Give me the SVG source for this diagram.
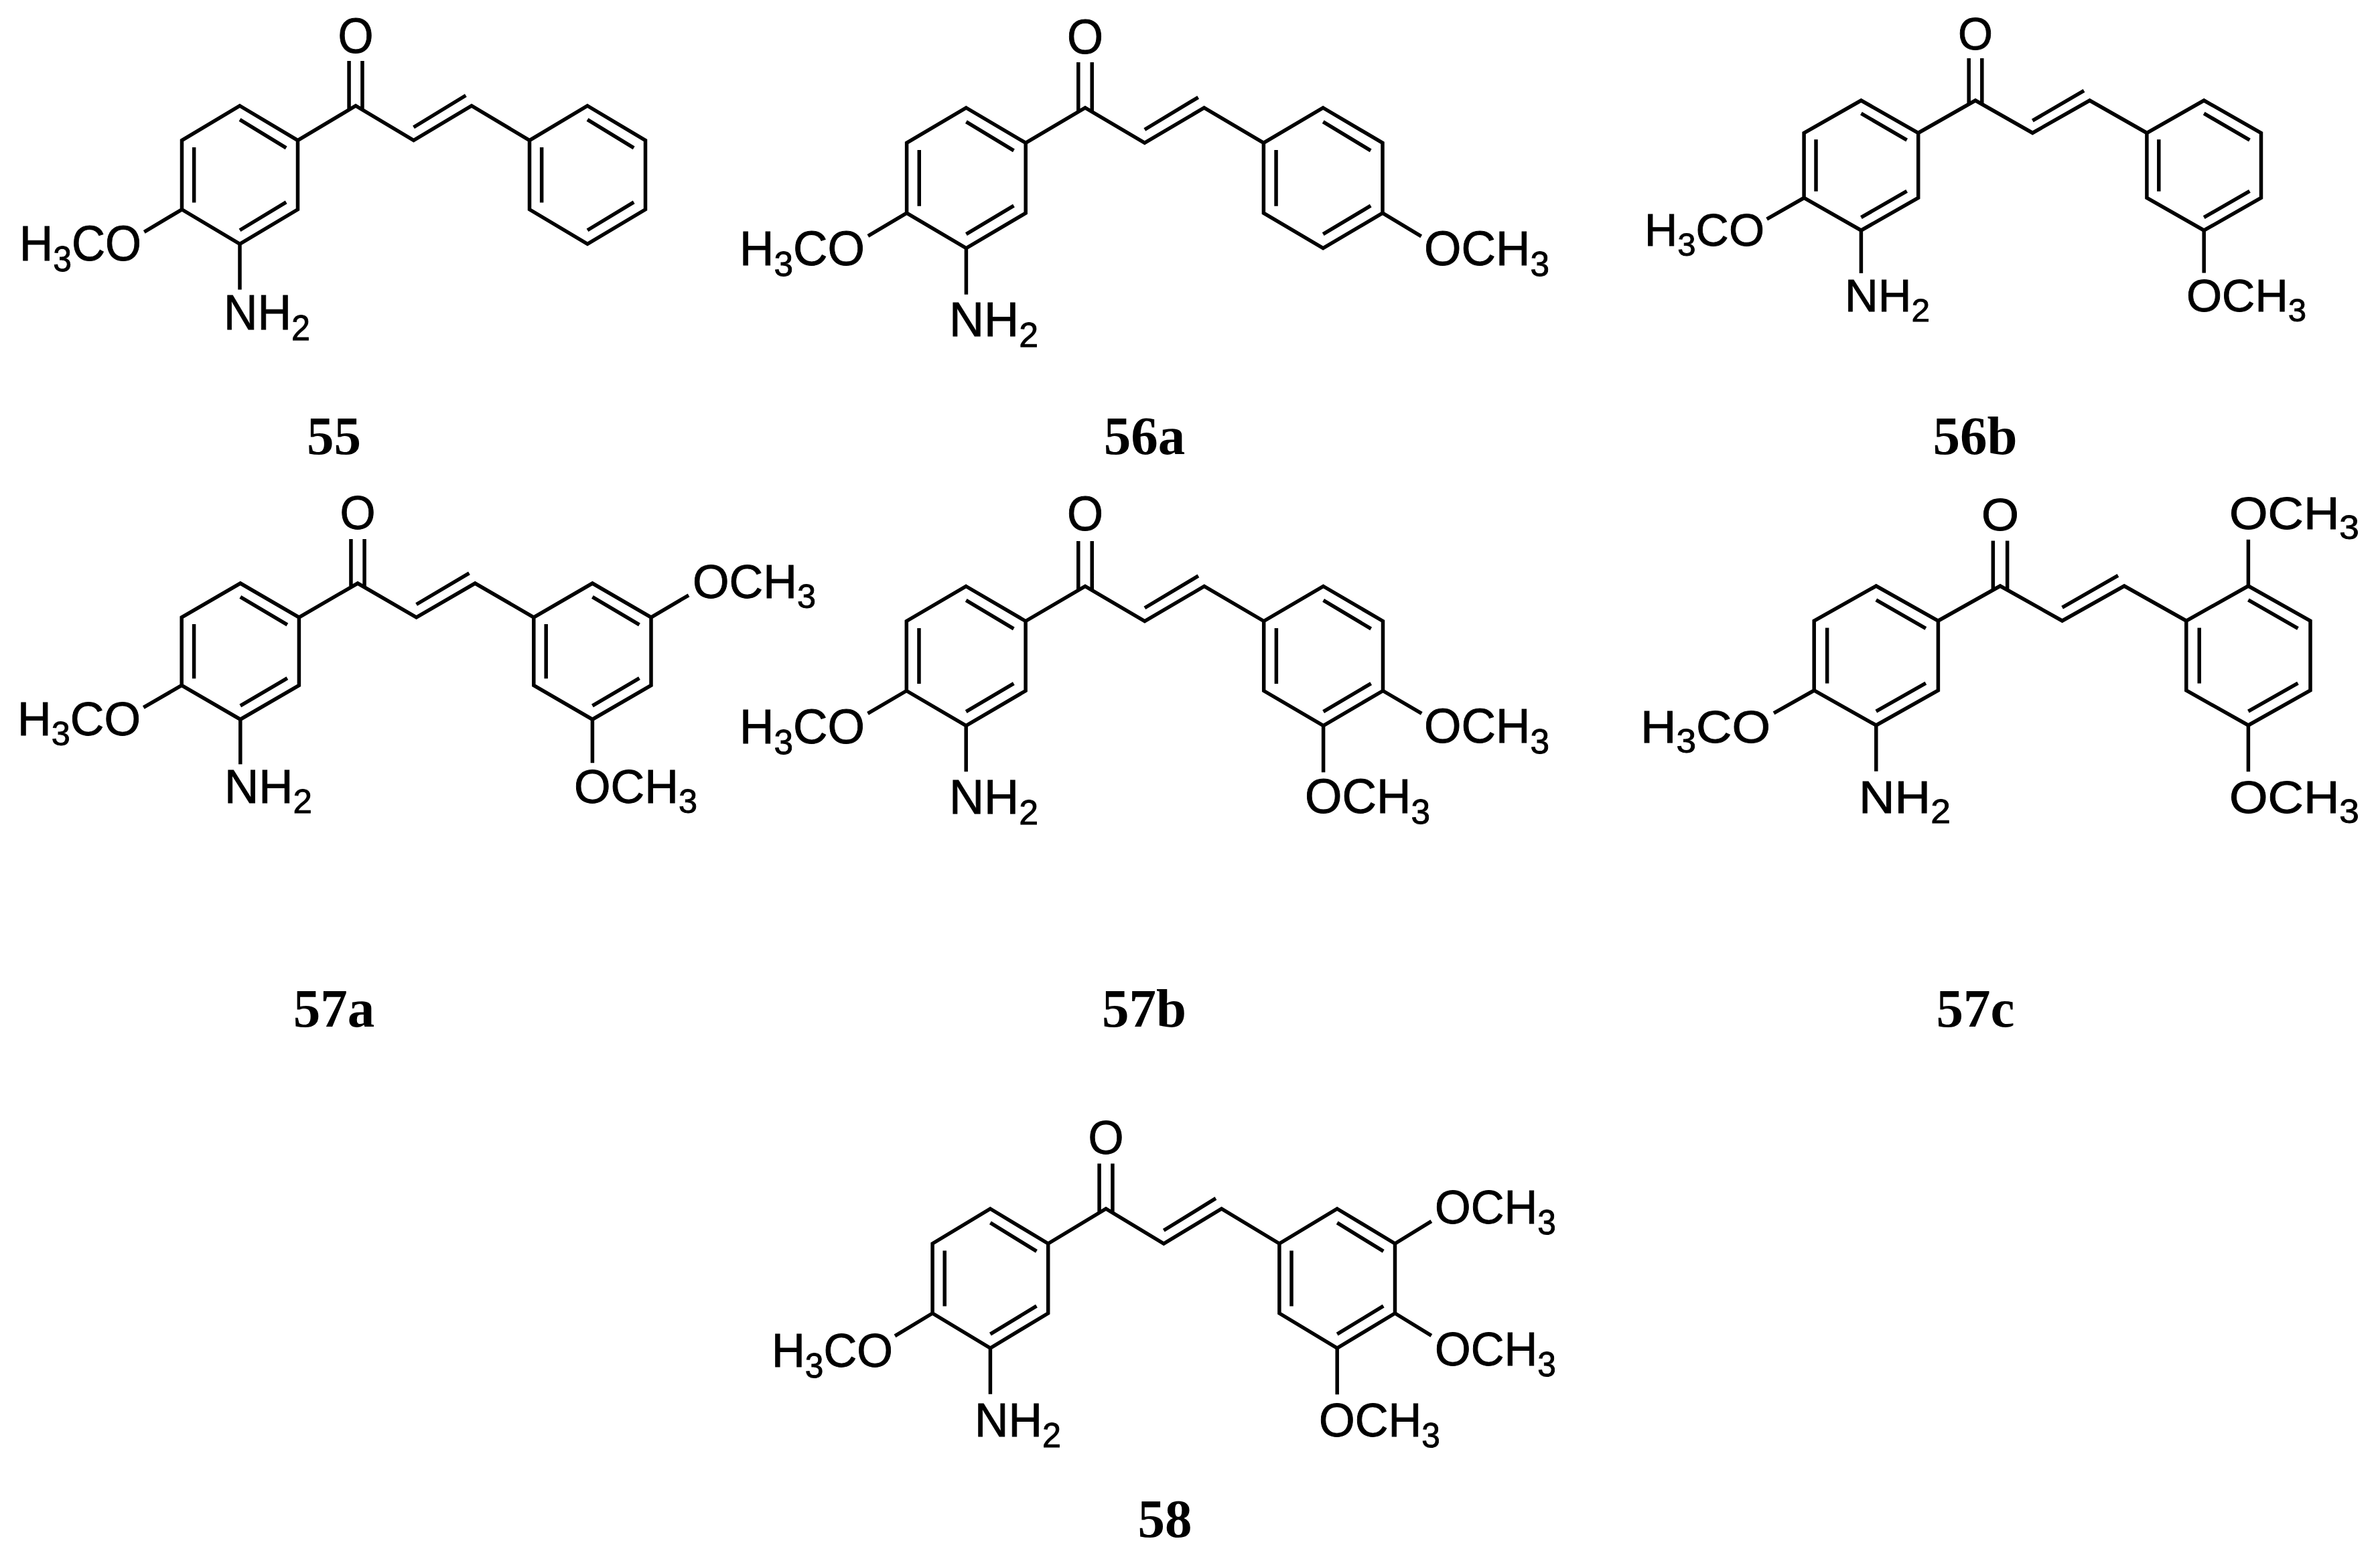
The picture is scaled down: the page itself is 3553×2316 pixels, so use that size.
<svg xmlns="http://www.w3.org/2000/svg" width="3553" height="2316" viewBox="0 0 3553 2316">
<style>
.b{fill:none;stroke:#000;stroke-width:5.5;stroke-linejoin:miter;stroke-miterlimit:10;vector-effect:non-scaling-stroke}
.t{font-family:"Liberation Sans",Arial,sans-serif;fill:#000;stroke:#000;stroke-width:.9}
.s{font-size:72%}
.m{text-anchor:middle}
.l{font-family:"Liberation Serif","Times New Roman",serif;font-weight:bold;font-size:81px;text-anchor:middle;fill:#000}
</style>
<defs>
<path id="core" class="b" d="M-2 0L-1 1L-1 3L-2 4L-3 3L-3 1ZM-1 1L0 0L1 1L2 0L3 1M-.115 .08V-1.3M.115 .1V-1.3M4 0L5 1L5 3L4 4L3 3L3 1ZM-2 .4L-1.2 1.22M-2.79 1.2V2.8M-1.2 2.79L-2 3.6M4 .4L4.8 1.22M3.21 1.2V2.8M4.8 2.79L4 3.6M1 .62L1.9 -.3M-3 3L-3.65 3.65M-2 4V5.32"/>
</defs>
<rect width="3553" height="2316" fill="#fff"/>

<g id="m55">
<use href="#core" transform="matrix(86.5 0 0 51.6 531 158)"/>
<g class="t" font-size="74">
<text class="m" x="531" y="79" textLength="53" lengthAdjust="spacingAndGlyphs">O</text>
<text x="29" y="389" textLength="182" lengthAdjust="spacingAndGlyphs">H<tspan class="s" dy="16">3</tspan><tspan dy="-16">CO</tspan></text>
<text x="334" y="492" textLength="129" lengthAdjust="spacingAndGlyphs">NH<tspan class="s" dy="16">2</tspan></text>
</g>
<text class="l" x="498.5" y="678">55</text>
</g>

<g id="m56a">
<g transform="matrix(88.8 0 0 52.4 1620 161)"><use href="#core"/><path class="b" d="M5 3L5.65 3.66"/></g>
<g class="t" font-size="73">
<text class="m" x="1620" y="80" textLength="54" lengthAdjust="spacingAndGlyphs">O</text>
<text x="1104" y="396" textLength="187" lengthAdjust="spacingAndGlyphs">H<tspan class="s" dy="16">3</tspan><tspan dy="-16">CO</tspan></text>
<text x="1417" y="502" textLength="133" lengthAdjust="spacingAndGlyphs">NH<tspan class="s" dy="16">2</tspan></text>
<text x="2126" y="396" textLength="187" lengthAdjust="spacingAndGlyphs">OCH<tspan class="s" dy="16">3</tspan></text>
</g>
<text class="l" x="1708.5" y="678">56a</text>
</g>

<g id="m56b">
<g transform="matrix(85.3 0 0 48.5 2949 150)"><use href="#core"/><path class="b" d="M4 4V5.31"/></g>
<g class="t" font-size="68">
<text class="m" x="2949" y="74" textLength="52" lengthAdjust="spacingAndGlyphs">O</text>
<text x="2455" y="367" textLength="179" lengthAdjust="spacingAndGlyphs">H<tspan class="s" dy="15">3</tspan><tspan dy="-15">CO</tspan></text>
<text x="2754" y="465" textLength="127" lengthAdjust="spacingAndGlyphs">NH<tspan class="s" dy="15">2</tspan></text>
<text x="3264" y="465" textLength="179" lengthAdjust="spacingAndGlyphs">OCH<tspan class="s" dy="15">3</tspan></text>
</g>
<text class="l" x="2948.5" y="678">56b</text>
</g>

<g id="m57a">
<g transform="matrix(87.6 0 0 50.8 534 871)"><use href="#core"/><path class="b" d="M5 1L5.64 .35M4 4V5.28"/></g>
<g class="t" font-size="70">
<text class="m" x="534" y="790" textLength="53" lengthAdjust="spacingAndGlyphs">O</text>
<text x="26" y="1098" textLength="184" lengthAdjust="spacingAndGlyphs">H<tspan class="s" dy="15">3</tspan><tspan dy="-15">CO</tspan></text>
<text x="335" y="1199" textLength="131" lengthAdjust="spacingAndGlyphs">NH<tspan class="s" dy="15">2</tspan></text>
<text x="1034" y="893" textLength="184" lengthAdjust="spacingAndGlyphs">OCH<tspan class="s" dy="15">3</tspan></text>
<text x="857" y="1199" textLength="184" lengthAdjust="spacingAndGlyphs">OCH<tspan class="s" dy="15">3</tspan></text>
</g>
<text class="l" x="498.5" y="1533">57a</text>
</g>

<g id="m57b">
<g transform="matrix(88.9 0 0 52 1620 875.5)"><use href="#core"/><path class="b" d="M5 3L5.65 3.65M4 4V5.34"/></g>
<g class="t" font-size="72">
<text class="m" x="1620" y="792" textLength="54" lengthAdjust="spacingAndGlyphs">O</text>
<text x="1104" y="1110" textLength="187" lengthAdjust="spacingAndGlyphs">H<tspan class="s" dy="16">3</tspan><tspan dy="-16">CO</tspan></text>
<text x="1417" y="1215" textLength="133" lengthAdjust="spacingAndGlyphs">NH<tspan class="s" dy="16">2</tspan></text>
<text x="2126" y="1109" textLength="187" lengthAdjust="spacingAndGlyphs">OCH<tspan class="s" dy="16">3</tspan></text>
<text x="1948" y="1214" textLength="187" lengthAdjust="spacingAndGlyphs">OCH<tspan class="s" dy="16">3</tspan></text>
</g>
<text class="l" x="1708" y="1533">57b</text>
</g>

<g id="m57c">
<g transform="matrix(92.6 0 0 52 2986 875)"><use href="#core"/><path class="b" d="M4 0V-1.33M4 4V5.33"/></g>
<g class="t" font-size="69">
<text class="m" x="2986" y="792" textLength="56" lengthAdjust="spacingAndGlyphs">O</text>
<text x="2449" y="1109" textLength="194" lengthAdjust="spacingAndGlyphs">H<tspan class="s" dy="15">3</tspan><tspan dy="-15">CO</tspan></text>
<text x="2775" y="1214" textLength="137" lengthAdjust="spacingAndGlyphs">NH<tspan class="s" dy="15">2</tspan></text>
<text x="3328" y="790" textLength="194" lengthAdjust="spacingAndGlyphs">OCH<tspan class="s" dy="15">3</tspan></text>
<text x="3328" y="1214" textLength="194" lengthAdjust="spacingAndGlyphs">OCH<tspan class="s" dy="15">3</tspan></text>
</g>
<text class="l" x="2949" y="1533">57c</text>
</g>

<g id="m58">
<g transform="matrix(86.3 0 0 52 1651 1805)"><use href="#core"/><path class="b" d="M5 1L5.63 .36M5 3L5.63 3.64M4 4V5.33"/></g>
<g class="t" font-size="71">
<text class="m" x="1651" y="1723" textLength="53" lengthAdjust="spacingAndGlyphs">O</text>
<text x="1152" y="2041" textLength="181" lengthAdjust="spacingAndGlyphs">H<tspan class="s" dy="16">3</tspan><tspan dy="-16">CO</tspan></text>
<text x="1455" y="2145" textLength="129" lengthAdjust="spacingAndGlyphs">NH<tspan class="s" dy="16">2</tspan></text>
<text x="2142" y="1827" textLength="181" lengthAdjust="spacingAndGlyphs">OCH<tspan class="s" dy="16">3</tspan></text>
<text x="2142" y="2039" textLength="181" lengthAdjust="spacingAndGlyphs">OCH<tspan class="s" dy="16">3</tspan></text>
<text x="1969" y="2145" textLength="181" lengthAdjust="spacingAndGlyphs">OCH<tspan class="s" dy="16">3</tspan></text>
</g>
<text class="l" x="1739" y="2295">58</text>
</g>
</svg>
